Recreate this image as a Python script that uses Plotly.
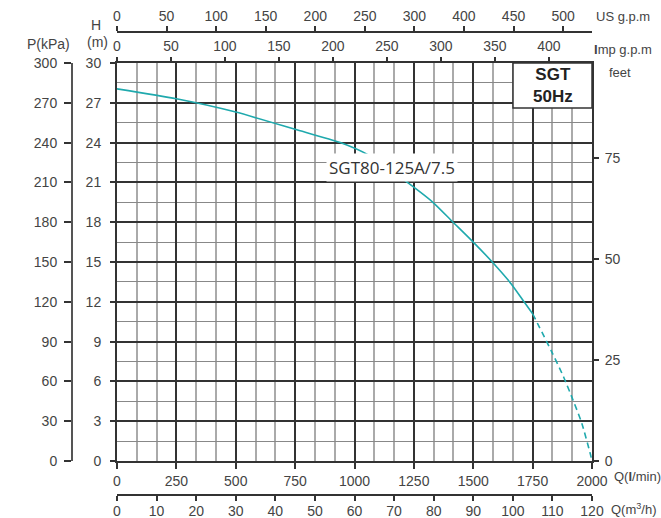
import plotly.graph_objects as go

# ---------------- data ----------------
q_lmin_solid = [0, 250, 500, 750, 940, 1060, 1200, 1330, 1415, 1500, 1580, 1660, 1710, 1750]
h_m_solid = [28.05, 27.3, 26.3, 25.0, 24.0, 23.05, 21.3, 19.5, 18.0, 16.5, 15.0, 13.35, 12.1, 11.1]
q_lmin_dash = [1750, 1830, 1880, 1920, 1957, 1992, 2000]
h_m_dash = [11.1, 8.25, 6.35, 4.6, 2.85, 0.6, 0]

q_lmin_ticks = [0, 250, 500, 750, 1000, 1250, 1500, 1750, 2000]
q_m3h_ticks = [0, 10, 20, 30, 40, 50, 60, 70, 80, 90, 100, 110, 120]
h_ticks = [0, 3, 6, 9, 12, 15, 18, 21, 24, 27, 30]
p_ticks = [0, 30, 60, 90, 120, 150, 180, 210, 240, 270, 300]
feet_ticks = [0, 25, 50, 75]
imp_ticks = [0, 50, 100, 150, 200, 250, 300, 350, 400]
us_labels = ["0", "50", "100", "150", "200", "250", "300", "400", "450", "500"]

curve_name = "SGT80-125A/7.5"
box_text = "SGT<br>50Hz"

# ---------------- layout helpers ----------------
W, H = 661, 518
PL, PR, PT, PB = 72, 592, 32, 495      # paper box in px
XL, YT, YB = 117, 63, 461              # plot area in px
pw, ph = PR - PL, PB - PT


def px(x):
    return (x - PL) / pw


def py(y):
    return (PB - y) / ph


xdom = [px(XL), 1.0]
ydom = [py(YB), py(YT)]

TEAL = "#1FA9AD"
DARK = "#333333"
TXT = "#444444"
FONT = "Liberation Sans, Arial, sans-serif"

fig = go.Figure()
fig.add_trace(go.Scatter(x=q_lmin_solid, y=h_m_solid, mode="lines",
                         line=dict(color=TEAL, width=1.6, shape="spline", smoothing=0.6),
                         hoverinfo="skip", showlegend=False))
fig.add_trace(go.Scatter(x=q_lmin_dash, y=h_m_dash, mode="lines",
                         line=dict(color=TEAL, width=1.6, dash="6px,4px", shape="spline", smoothing=0.6),
                         hoverinfo="skip", showlegend=False))
# empty traces so that every auxiliary axis is drawn
for xa, ya in [("x2", "y"), ("x3", "y"), ("x4", "y"), ("x", "y2"), ("x", "y3")]:
    fig.add_trace(go.Scatter(x=[None], y=[None], xaxis=xa, yaxis=ya, mode="lines",
                             showlegend=False, hoverinfo="skip"))

tickfont = dict(family=FONT, size=14, color=TXT)

# US gpm tick positions: evenly spaced as in the picture (in l/min units of the plot width)
us_step = 208.7
us_vals = [i * us_step for i in range(len(us_labels))]

fig.update_layout(
    template="none",
    width=W, height=H,
    margin=dict(l=PL, r=W - PR, t=PT, b=H - PB, pad=0),
    paper_bgcolor="white", plot_bgcolor="white",
    font=dict(family=FONT, size=14, color=TXT),
    xaxis=dict(domain=xdom, range=[0, 2000], anchor="y", side="bottom",
               tickvals=q_lmin_ticks, ticks="outside", ticklen=6, tickwidth=1.5, tickcolor=DARK,
               tickfont=tickfont, ticklabelstandoff=0,
               showline=True, linecolor=DARK, linewidth=2, mirror=True,
               showgrid=True, gridcolor=DARK, gridwidth=1.5, zeroline=False,
               minor=dict(dtick=250 / 3, tick0=0, showgrid=True, gridcolor="#aaaaaa", gridwidth=1.6, ticks=""),
               automargin=False, fixedrange=True),
    xaxis2=dict(overlaying="x", anchor="y", side="top", range=[0, 2000 / 4.546],
                tickvals=imp_ticks, ticks="outside", ticklen=5, tickwidth=1.5, tickcolor=DARK,
                tickfont=tickfont, showline=False, showgrid=False, zeroline=False, automargin=False),
    xaxis3=dict(overlaying="x", anchor="free", position=0, side="bottom", range=[0, 120],
                tickvals=q_m3h_ticks, ticks="outside", ticklen=5, tickwidth=1.5, tickcolor=DARK,
                tickfont=tickfont, ticklabelstandoff=-2,
                showline=True, linecolor=DARK, linewidth=1.5,
                showgrid=False, zeroline=False, automargin=False),
    xaxis4=dict(overlaying="x", anchor="free", position=1, side="top", range=[0, 2000],
                tickvals=us_vals, ticktext=us_labels, ticks="outside", ticklen=5, tickwidth=1.5,
                tickcolor=DARK, tickfont=tickfont, showline=True, linecolor=DARK, linewidth=1.5,
                showgrid=False, zeroline=False, automargin=False),
    yaxis=dict(domain=ydom, range=[0, 30], anchor="x", side="left",
               tickvals=h_ticks, ticks="outside", ticklen=5, tickwidth=1.5, tickcolor=DARK,
               tickfont=tickfont, ticklabelstandoff=6,
               showline=True, linecolor=DARK, linewidth=2, mirror=True,
               showgrid=True, gridcolor=DARK, gridwidth=1.5, zeroline=False,
               minor=dict(dtick=1.5, tick0=0, showgrid=True, gridcolor="#888888", gridwidth=1, ticks=""),
               automargin=False, fixedrange=True),
    yaxis2=dict(overlaying="y", anchor="free", position=0, side="left", range=[0, 300],
                tickvals=p_ticks, ticks="outside", ticklen=7, tickwidth=1.5, tickcolor=DARK,
                tickfont=tickfont, ticklabelstandoff=4, showline=True, linecolor="#555555", linewidth=2,
                showgrid=False, zeroline=False, automargin=False),
    yaxis3=dict(overlaying="y", anchor="x", side="right", range=[0, 30 / 0.3048],
                tickvals=feet_ticks, ticks="outside", ticklen=6, tickwidth=1.5, tickcolor=DARK,
                tickfont=tickfont, ticklabelstandoff=3, showline=False,
                showgrid=False, zeroline=False, automargin=False),
)

# SGT 50Hz box
bx0, by1 = (513 - XL) / (PR - XL), (YB - 108) / (YB - YT)
fig.add_shape(type="rect", xref="x domain", yref="y domain", x0=bx0, x1=1, y0=by1, y1=1,
              fillcolor="white", line=dict(color=DARK, width=1.5), layer="above")
fig.add_annotation(xref="x domain", yref="y domain", x=(bx0 + 1) / 2, y=(by1 + 1) / 2,
                   xanchor="center", yanchor="middle",
                   text="<b>" + box_text + "</b>", showarrow=False,
                   font=dict(family=FONT, size=17, color="#222222"), align="center")

# curve label
fig.add_annotation(x=1158, y=22.15, xref="x", yref="y", text=curve_name, showarrow=False,
                   xanchor="center", yanchor="middle", bgcolor="white", borderpad=2,
                   font=dict(family="Open Sans, Noto Sans, sans-serif", size=17, color="#333333"))

# axis titles
titles = [
    ("P(kPa)", 48, 44, "center", 14),
    ("H", 96, 25, "center", 14),
    ("(m)", 97, 42, "center", 14),
    ("US g.p.m", 594, 16, "left", 13),
    ("<b>I</b>mp g.p.m", 592, 49, "left", 13),
    ("feet", 607, 73, "left", 13),
    ("Q(<b>l</b>/min)", 612, 476, "left", 13),
    ("Q(m<sup>3</sup>/h)", 609, 509, "left", 13),
]
for txt, x, y, anc, fs in titles:
    fig.add_annotation(xref="paper", yref="paper", x=px(x), y=py(y), text=txt, showarrow=False,
                       xanchor=anc, yanchor="middle", font=dict(family=FONT, size=fs, color=TXT))

fig.write_html("out.html", config={"displayModeBar": False},
               post_script="document.body.style.margin='0';document.body.style.padding='0';"
                           "document.documentElement.style.overflow='hidden';")
